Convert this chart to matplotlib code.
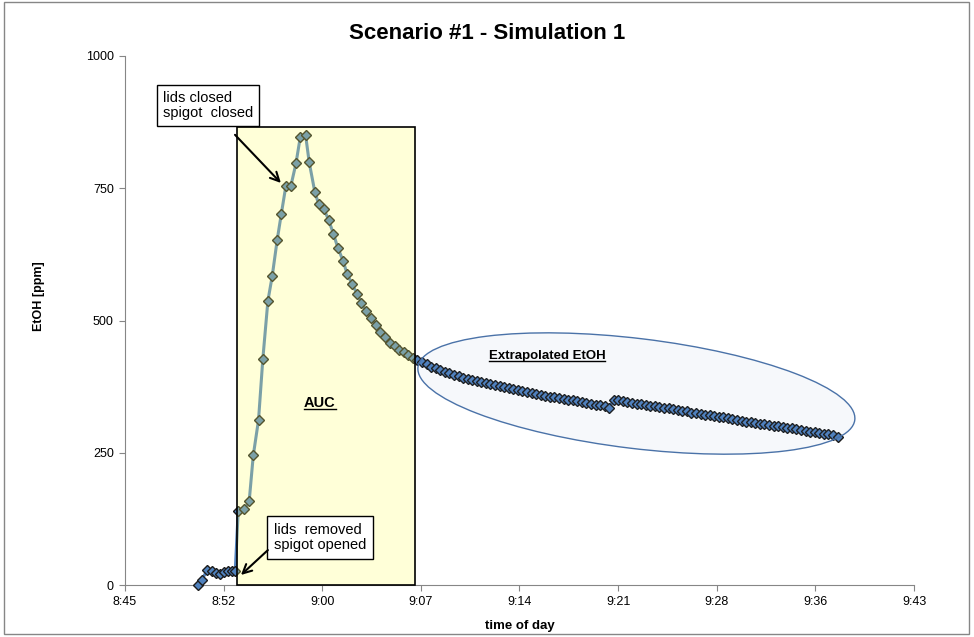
import matplotlib.pyplot as plt
from matplotlib.patches import Rectangle, Ellipse
from matplotlib.lines import Line2D
from matplotlib.transforms import ScaledTranslation

plt.rcParams['font.family'] = ['Liberation Sans', 'DejaVu Sans']

# measured part (lids closed -> lids removed), clock time h:mm:ss
clock_meas = [
    '8:50:55', '8:51:12', '8:51:37', '8:51:56', '8:52:14', '8:52:32', '8:52:50', '8:53:07', '8:53:23', '8:53:39',
    '8:53:52', '8:54:19', '8:54:40', '8:54:58', '8:55:21', '8:55:40', '8:56:02', '8:56:21', '8:56:43', '8:57:01',
    '8:57:21', '8:57:43', '8:58:05', '8:58:24', '8:58:47', '8:59:03', '8:59:28', '8:59:44', '9:00:07', '9:00:28',
    '9:00:49', '9:01:08', '9:01:32', '9:01:49', '9:02:11', '9:02:32', '9:02:51', '9:03:10', '9:03:34', '9:03:54',
    '9:04:14', '9:04:36', '9:04:57', '9:05:17',
]
etoh_meas = [
    0, 10, 28, 27, 23, 21, 24, 26, 27, 26,
    140, 143, 158, 245, 312, 428, 537, 584, 653, 702,
    755, 755, 797, 847, 851, 799, 742, 721, 711, 690,
    664, 638, 612, 588, 569, 551, 534, 518, 505, 491,
    478, 468, 458, 451,
]

# extrapolated tail, 20 s samples
clock_extrap = [
    '9:05:37', '9:05:57',
    '9:06:17', '9:06:37', '9:06:57', '9:07:17', '9:07:37', '9:07:57', '9:08:17', '9:08:37', '9:08:57',
    '9:09:17', '9:09:37', '9:09:57', '9:10:17', '9:10:37', '9:10:57', '9:11:17', '9:11:37', '9:11:57',
    '9:12:17', '9:12:37', '9:12:57', '9:13:17', '9:13:37', '9:13:57', '9:14:17', '9:14:37', '9:14:57',
    '9:15:17', '9:15:37', '9:15:57', '9:16:17', '9:16:37', '9:16:57', '9:17:17', '9:17:37', '9:17:57',
    '9:18:17', '9:18:37', '9:18:57', '9:19:17', '9:19:37', '9:19:57', '9:20:17', '9:20:37', '9:20:57',
    '9:21:17', '9:21:37', '9:21:57', '9:22:17', '9:22:37', '9:22:57', '9:23:17', '9:23:37', '9:23:57',
    '9:24:17', '9:24:37', '9:24:57', '9:25:17', '9:25:37', '9:25:57', '9:26:17', '9:26:37', '9:26:57',
    '9:27:17', '9:27:37', '9:27:57', '9:28:17', '9:28:37', '9:28:57', '9:29:17', '9:29:37', '9:29:57',
    '9:30:17', '9:30:37', '9:30:57', '9:31:17', '9:31:37', '9:31:57', '9:32:17', '9:32:37', '9:32:57',
    '9:33:17', '9:33:37', '9:33:57', '9:34:17', '9:34:37', '9:34:57', '9:35:17', '9:35:37', '9:35:57',
    '9:36:17', '9:36:37', '9:36:57', '9:37:17', '9:37:37',
]
etoh_extrap = [
    445, 440, 435, 430, 425, 421, 417, 413, 410, 406,
    403, 400, 397, 395, 392, 390, 388, 386, 384, 382,
    380, 378, 376, 374, 372, 370, 368, 367, 365, 363,
    361, 360, 358, 356, 355, 353, 352, 350, 349, 347,
    346, 344, 343, 341, 340, 338, 335, 350, 349, 347,
    346, 345, 343, 342, 341, 339, 338, 336, 335, 334,
    332, 331, 329, 328, 326, 325, 324, 322, 321, 319,
    318, 317, 315, 314, 312, 310, 309, 308, 306, 305,
    304, 302, 301, 300, 298, 297, 296, 294, 293, 292,
    290, 289, 288, 286, 285, 284, 280,
]

# excel axis: 0.005 day steps, labels truncated to h:mm
tick_clock = ['8:45:36', '8:52:48', '9:00:00', '9:07:12', '9:14:24',
              '9:21:36', '9:28:48', '9:36:00', '9:43:12']
y_ticks = [0, 250, 500, 750, 1000]


def to_min(s):
    h, m, sec = s.split(':')
    return int(h) * 60 + int(m) + int(sec) / 60.0


t_all = [to_min(s) for s in clock_meas + clock_extrap]
v_all = etoh_meas + etoh_extrap
ticks = [to_min(s) for s in tick_clock]

fig = plt.figure(figsize=(9.74, 6.37), dpi=100)
ax = fig.add_axes([0.1283, 0.0816, 0.8101, 0.8305])

ax.plot(t_all, v_all, color='#4F81BD', lw=2.2, zorder=2, clip_on=False)
ax.plot(t_all, v_all, ls='none', marker='D', ms=5, mfc='#4F81BD', mec='#1c1c1c', mew=1.0,
        zorder=3, clip_on=False)

ax.set_xlim(ticks[0], ticks[-1])
ax.set_ylim(0, 1000)
ax.set_xticks(ticks)
ax.set_xticklabels([s.rsplit(':', 1)[0] for s in tick_clock])
ax.set_yticks(y_ticks)

for side in ['top', 'right']:
    ax.spines[side].set_visible(False)
for side in ['left', 'bottom']:
    ax.spines[side].set_color('#868686')
ax.tick_params(axis='both', direction='out', length=4, color='#868686', labelsize=9, pad=4)

ax.set_xlabel('time of day', fontsize=9.5, fontweight='bold')
ax.set_ylabel('EtOH [ppm]', fontsize=9, fontweight='bold')
ax.xaxis.set_label_coords(0.5, -0.066)
ax.yaxis.set_label_coords(-0.101, 0.546)

fig.text(0.5, 0.948, 'Scenario #1 - Simulation 1', ha='center', va='center',
         fontsize=16, fontweight='bold')

# AUC box
x0, x1 = to_min('8:53:47'), to_min('9:06:46')
ax.add_patch(Rectangle((x0, 0), x1 - x0, 866, facecolor=(1, 1, 0.4, 0.25),
                       edgecolor='black', lw=1.2, zorder=4, clip_on=False))

# extrapolated ellipse (sized in inches around a data point)
ell_tr = fig.dpi_scale_trans + ScaledTranslation(to_min('9:22:56'), 362, ax.transData)
ax.add_patch(Ellipse((0, 0), 4.40, 1.10, angle=-6.9, transform=ell_tr,
                     facecolor=(0.31, 0.5, 0.74, 0.05), edgecolor='#4a72a8', lw=1.0, zorder=5))

# labels with underline
lab1 = ax.text(to_min('8:59:50'), 336, 'AUC', ha='center', va='baseline',
               fontsize=10.5, fontweight='bold', zorder=6)
lab2 = ax.text(to_min('9:16:24'), 427, 'Extrapolated EtOH', ha='center', va='baseline',
               fontsize=9.5, fontweight='bold', zorder=6)

# annotation boxes
bbox = dict(boxstyle='square,pad=0.4', facecolor='white', edgecolor='black', lw=1.0)
ax.text(to_min('8:48:22'), 906, 'lids closed\nspigot  closed', ha='left', va='center',
        fontsize=10.5, bbox=bbox, zorder=3.5, linespacing=1.1)
ax.text(to_min('8:56:29'), 90, 'lids  removed\nspigot opened', ha='left', va='center',
        fontsize=10.5, bbox=dict(boxstyle='square,pad=0.45', facecolor='white',
                                 edgecolor='black', lw=1.0),
        zorder=6, linespacing=1.1)

arrow = dict(arrowstyle='->', lw=1.5, color='black', mutation_scale=16, shrinkA=0, shrinkB=0)
ax.annotate('', xy=(to_min('8:56:59'), 760), xytext=(to_min('8:53:38'), 851),
            arrowprops=arrow, zorder=6)
ax.annotate('', xy=(to_min('8:54:04'), 19), xytext=(to_min('8:56:02'), 66),
            arrowprops=arrow, zorder=6)

# outer chart frame
fig.add_artist(Rectangle((0.004, 0.005), 0.991, 0.992, transform=fig.transFigure,
                         fill=False, edgecolor='#868686', lw=1.0))

fig.canvas.draw()
renderer = fig.canvas.get_renderer()
inv = fig.transFigure.inverted()
for lab in [lab1, lab2]:
    bb = lab.get_window_extent(renderer)
    base_y = ax.transData.transform(lab.get_position())[1] - 2
    p0 = inv.transform((bb.x0, base_y))
    p1 = inv.transform((bb.x1, base_y))
    fig.add_artist(Line2D([p0[0], p1[0]], [p0[1], p1[1]], color='black', lw=1.0, zorder=7))

fig.savefig('out.png', dpi=100)
